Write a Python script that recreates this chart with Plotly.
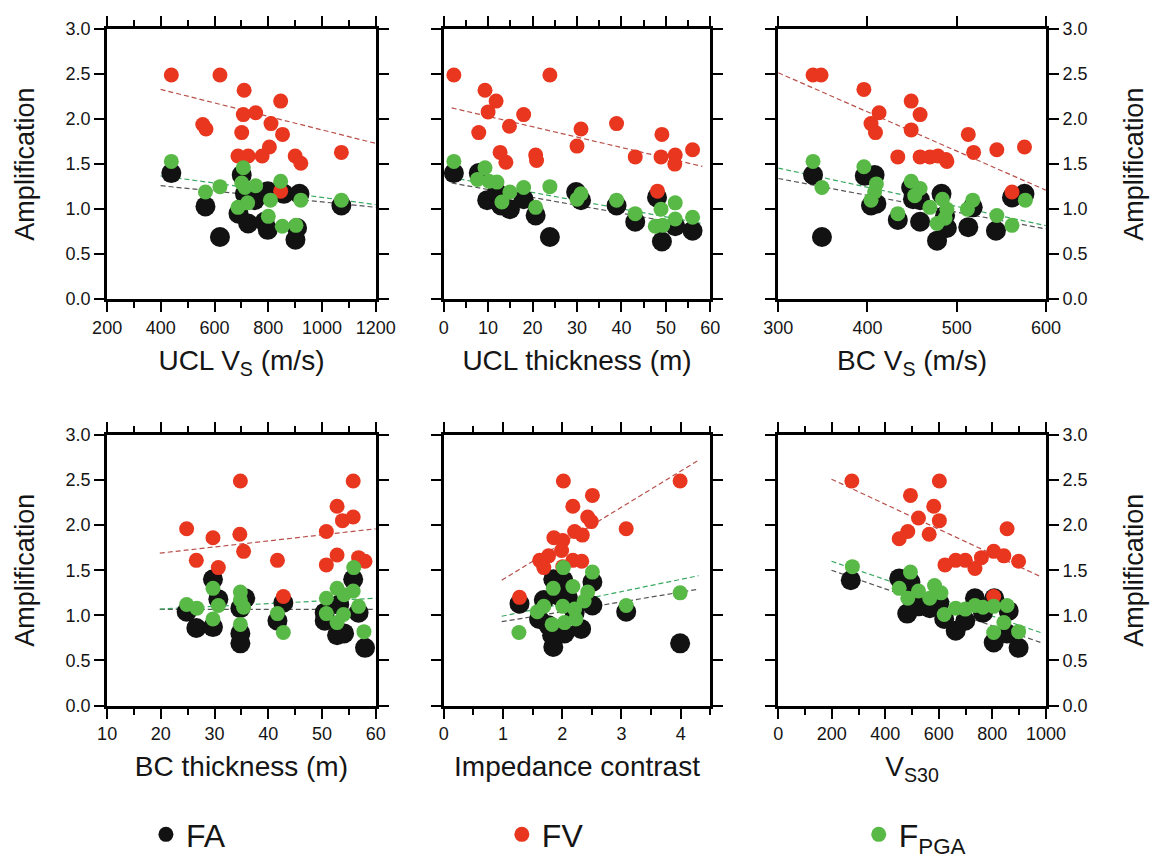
import plotly.graph_objects as go

# ---------------- data ----------------
# Panel 1: UCL Vs (m/s)
ucl_vs_fa_x = [439, 566, 620, 701, 689, 725, 713, 749, 798, 858, 786, 798, 907, 901, 916, 1072]
ucl_vs_fa_y = [1.40, 1.03, 0.69, 1.38, 0.95, 0.84, 1.17, 1.10, 1.20, 1.17, 0.86, 0.77, 0.79, 0.66, 1.17, 1.04]
ucl_vs_fv_x = [439, 620, 710, 846, 707, 753, 556, 568, 810, 701, 853, 804, 777, 687, 725, 900, 921, 1072, 846]
ucl_vs_fv_y = [2.49, 2.49, 2.32, 2.20, 2.05, 2.07, 1.94, 1.89, 1.95, 1.85, 1.83, 1.69, 1.59, 1.59, 1.59, 1.59, 1.51, 1.63, 1.20]
ucl_vs_fpga_x = [439, 707, 566, 620, 701, 713, 753, 846, 687, 723, 808, 800, 852, 903, 921, 1072]
ucl_vs_fpga_y = [1.53, 1.46, 1.19, 1.25, 1.29, 1.24, 1.26, 1.31, 1.02, 1.07, 1.10, 0.92, 0.81, 0.82, 1.10, 1.10]
ucl_vs_trend_x = [399, 1200]
ucl_vs_trend_fa = [1.26, 1.02]
ucl_vs_trend_fv = [2.33, 1.73]
ucl_vs_trend_fpga = [1.37, 1.05]

# Panel 2: UCL thickness (m)
ucl_th_fa_x = [2.3, 7.9, 9.8, 12.9, 14.9, 12.0, 18.0, 20.7, 23.9, 29.8, 30.9, 38.9, 43.1, 48.0, 49.1, 52.1, 56.0]
ucl_th_fa_y = [1.40, 1.40, 1.10, 1.04, 1.00, 1.18, 1.11, 0.93, 0.69, 1.19, 1.10, 1.04, 0.86, 1.13, 0.64, 0.81, 0.76]
ucl_th_fv_x = [2.3, 23.9, 9.3, 11.8, 10.0, 18.0, 7.9, 14.8, 30.9, 38.9, 49.1, 30.0, 12.7, 14.0, 20.7, 20.9, 43.1, 48.9, 52.1, 52.0, 56.0, 48.1]
ucl_th_fv_y = [2.49, 2.49, 2.32, 2.20, 2.08, 2.05, 1.85, 1.92, 1.89, 1.95, 1.83, 1.70, 1.63, 1.52, 1.60, 1.54, 1.58, 1.58, 1.60, 1.50, 1.66, 1.20]
ucl_th_fpga_x = [2.3, 9.3, 7.6, 10.2, 12.0, 14.9, 13.1, 18.0, 20.7, 23.9, 30.0, 30.9, 38.9, 43.1, 48.9, 52.1, 47.6, 49.3, 52.1, 56.0]
ucl_th_fpga_y = [1.53, 1.46, 1.33, 1.31, 1.30, 1.19, 1.08, 1.24, 1.02, 1.25, 1.11, 1.17, 1.10, 0.95, 1.00, 1.07, 0.81, 0.82, 0.89, 0.91]
ucl_th_trend_x = [1.8, 58.2]
ucl_th_trend_fa = [1.29, 0.795]
ucl_th_trend_fv = [2.125, 1.475]
ucl_th_trend_fpga = [1.35, 0.84]

# Panel 3: BC Vs (m/s)
bc_vs_fa_x = [339, 349, 397, 408, 404, 410, 449, 451, 459, 434, 459, 483, 487, 489, 478, 518, 513, 544, 562, 576]
bc_vs_fa_y = [1.38, 0.69, 1.37, 1.38, 1.04, 1.06, 1.24, 1.11, 1.10, 0.88, 0.86, 1.17, 0.93, 0.79, 0.65, 1.02, 0.80, 0.76, 1.13, 1.17]
bc_vs_fv_x = [339, 348, 396, 413, 404, 409, 449, 459, 449, 434, 459, 470, 479, 488, 489, 513, 519, 545, 576, 562]
bc_vs_fv_y = [2.49, 2.49, 2.33, 2.07, 1.95, 1.85, 2.20, 2.05, 1.88, 1.58, 1.58, 1.58, 1.59, 1.55, 1.53, 1.83, 1.63, 1.66, 1.69, 1.19]
bc_vs_fpga_x = [339, 349, 396, 410, 408, 404, 449, 459, 453, 470, 484, 489, 487, 478, 512, 518, 434, 545, 562, 577]
bc_vs_fpga_y = [1.53, 1.24, 1.47, 1.28, 1.19, 1.10, 1.31, 1.23, 1.15, 1.02, 1.11, 1.00, 0.90, 0.84, 1.00, 1.10, 0.95, 0.93, 0.82, 1.10]
bc_vs_trend_x = [300, 600]
bc_vs_trend_fa = [1.34, 0.78]
bc_vs_trend_fv = [2.515, 1.21]
bc_vs_trend_fpga = [1.456, 0.817]

# Panel 4: BC thickness (m)
bc_th_fa_x = [24.8, 26.6, 29.7, 30.7, 29.7, 34.8, 35.7, 34.8, 34.8, 41.7, 42.8, 50.5, 50.5, 52.8, 54.1, 55.8, 53.2, 56.8, 58.0]
bc_th_fa_y = [1.04, 0.86, 1.40, 1.18, 0.87, 1.08, 1.19, 0.80, 0.69, 0.94, 1.14, 0.94, 1.03, 0.78, 0.80, 1.40, 1.12, 1.03, 0.64]
bc_th_fv_x = [34.8, 55.8, 52.8, 53.8, 55.8, 24.8, 29.7, 34.7, 50.8, 35.4, 26.6, 30.7, 41.7, 52.8, 50.8, 56.8, 58.0, 42.8]
bc_th_fv_y = [2.49, 2.49, 2.21, 2.05, 2.09, 1.96, 1.86, 1.90, 1.93, 1.71, 1.61, 1.53, 1.61, 1.67, 1.56, 1.64, 1.60, 1.21]
bc_th_fpga_x = [24.8, 26.7, 29.7, 30.7, 29.7, 34.8, 34.8, 35.4, 34.8, 41.7, 42.8, 50.8, 50.8, 52.8, 54.1, 55.8, 55.9, 52.8, 54.0, 56.8, 57.8]
bc_th_fpga_y = [1.12, 1.08, 1.30, 1.11, 0.96, 1.26, 1.17, 1.09, 0.90, 1.02, 0.81, 1.19, 1.02, 1.30, 1.23, 1.27, 1.53, 0.92, 1.01, 1.10, 0.82]
bc_th_trend_x = [19.8, 60]
bc_th_trend_fa = [1.066, 1.066]
bc_th_trend_fv = [1.69, 1.96]
bc_th_trend_fpga = [1.07, 1.19]

# Panel 5: Impedance contrast
imp_fa_x = [1.28, 1.85, 2.02, 2.51, 1.69, 1.96, 2.10, 1.61, 1.77, 1.83, 1.85, 2.04, 2.32, 2.51, 3.08, 3.99, 2.21]
imp_fa_y = [1.13, 1.40, 1.39, 1.37, 1.17, 1.21, 1.19, 0.96, 0.89, 0.78, 0.65, 0.80, 0.85, 1.11, 1.04, 0.69, 1.03]
imp_fv_x = [2.02, 3.99, 2.51, 2.18, 2.43, 2.49, 3.08, 1.86, 2.01, 2.21, 2.34, 1.99, 1.77, 1.62, 1.69, 2.18, 2.33, 2.01, 1.28]
imp_fv_y = [2.49, 2.49, 2.33, 2.21, 2.09, 2.04, 1.96, 1.86, 1.83, 1.93, 1.89, 1.72, 1.66, 1.61, 1.53, 1.61, 1.60, 1.54, 1.20]
imp_fpga_x = [2.02, 2.51, 1.85, 2.18, 2.43, 2.37, 1.69, 2.01, 1.58, 1.83, 2.04, 2.21, 2.23, 1.27, 3.08, 3.99]
imp_fpga_y = [1.53, 1.48, 1.30, 1.32, 1.26, 1.16, 1.10, 1.10, 1.04, 0.90, 0.92, 1.07, 0.96, 0.81, 1.11, 1.25]
imp_trend_x = [0.98, 4.3]
imp_trend_fa = [0.93, 1.29]
imp_trend_fv = [1.39, 2.72]
imp_trend_fpga = [0.99, 1.44]

# Panel 6: VS30
vs30_fa_x = [271, 452, 494, 482, 524, 566, 602, 620, 663, 699, 735, 765, 805, 807, 861, 855, 898]
vs30_fa_y = [1.39, 1.41, 1.37, 1.02, 1.10, 1.08, 1.14, 0.96, 0.83, 0.94, 1.19, 1.03, 0.70, 1.19, 1.05, 0.80, 0.64]
vs30_fv_x = [275, 602, 494, 581, 524, 602, 484, 452, 564, 855, 623, 663, 699, 735, 759, 805, 843, 898, 805]
vs30_fv_y = [2.49, 2.49, 2.33, 2.21, 2.08, 2.05, 1.93, 1.85, 1.90, 1.96, 1.56, 1.61, 1.61, 1.52, 1.64, 1.71, 1.66, 1.60, 1.21]
vs30_fpga_x = [277, 494, 452, 484, 524, 584, 608, 566, 620, 663, 699, 735, 765, 805, 855, 843, 805, 898]
vs30_fpga_y = [1.54, 1.48, 1.30, 1.19, 1.27, 1.33, 1.25, 1.19, 1.01, 1.08, 1.07, 1.11, 1.09, 1.10, 1.11, 0.92, 0.81, 0.82]
vs30_trend_x = [199, 980]
vs30_trend_fa = [1.50, 0.70]
vs30_trend_fv = [2.51, 1.43]
vs30_trend_fpga = [1.60, 0.81]

x_titles = ["UCL V<sub>S</sub> (m/s)", "UCL thickness (m)", "BC V<sub>S</sub> (m/s)",
            "BC thickness (m)", "Impedance contrast", "V<sub>S30</sub>"]
x_ranges = [[200, 1200], [0, 60], [300, 600], [10, 60], [0, 4.5], [0, 1000]]
x_dticks = [200, 10, 100, 10, 1, 200]
x_minor = [100, 5, None, 5, 0.5, 100]
series_names = ["FA", "FV", "F<sub>PGA</sub>"]

# ---------------- styling ----------------
FONT = "Liberation Sans, Arial, Helvetica, sans-serif"
TXT = "#151515"
C_FA, C_FV, C_PGA = "#121212", "#e8361f", "#58b947"
L_FA, L_FV, L_PGA = "#555555", "#b8504a", "#3aa860"
SZ_FA, SZ_FV, SZ_PGA = 20, 15, 15

panels = [
    (ucl_vs_fa_x, ucl_vs_fa_y, ucl_vs_fv_x, ucl_vs_fv_y, ucl_vs_fpga_x, ucl_vs_fpga_y,
     ucl_vs_trend_x, ucl_vs_trend_fa, ucl_vs_trend_fv, ucl_vs_trend_fpga),
    (ucl_th_fa_x, ucl_th_fa_y, ucl_th_fv_x, ucl_th_fv_y, ucl_th_fpga_x, ucl_th_fpga_y,
     ucl_th_trend_x, ucl_th_trend_fa, ucl_th_trend_fv, ucl_th_trend_fpga),
    (bc_vs_fa_x, bc_vs_fa_y, bc_vs_fv_x, bc_vs_fv_y, bc_vs_fpga_x, bc_vs_fpga_y,
     bc_vs_trend_x, bc_vs_trend_fa, bc_vs_trend_fv, bc_vs_trend_fpga),
    (bc_th_fa_x, bc_th_fa_y, bc_th_fv_x, bc_th_fv_y, bc_th_fpga_x, bc_th_fpga_y,
     bc_th_trend_x, bc_th_trend_fa, bc_th_trend_fv, bc_th_trend_fpga),
    (imp_fa_x, imp_fa_y, imp_fv_x, imp_fv_y, imp_fpga_x, imp_fpga_y,
     imp_trend_x, imp_trend_fa, imp_trend_fv, imp_trend_fpga),
    (vs30_fa_x, vs30_fa_y, vs30_fv_x, vs30_fv_y, vs30_fpga_x, vs30_fpga_y,
     vs30_trend_x, vs30_trend_fa, vs30_trend_fv, vs30_trend_fpga),
]

W, H = 1159, 868
col_px = [(95, 372), (442, 717), (787, 1063)]
row_px = [(19.5, 296), (435, 712)]

fig = go.Figure()
layout = dict(
    width=W, height=H, margin=dict(l=0, r=0, t=0, b=0),
    paper_bgcolor="white", plot_bgcolor="white",
    font=dict(family=FONT, color=TXT),
    showlegend=True,
)

for i, p in enumerate(panels):
    fax, fay, fvx, fvy, fpx, fpy, tx, tfa, tfv, tfp = p
    n = i + 1
    xa = "x" if n == 1 else f"x{n}"
    ya = "y" if n == 1 else f"y{n}"
    for ty, col in ((tfa, L_FA), (tfv, L_FV), (tfp, L_PGA)):
        fig.add_trace(go.Scatter(x=tx, y=ty, mode="lines", xaxis=xa, yaxis=ya,
                                 line=dict(color=col, width=1.2, dash="5px,3px"),
                                 showlegend=False, hoverinfo="skip"))
    fig.add_trace(go.Scatter(x=fax, y=fay, mode="markers", xaxis=xa, yaxis=ya,
                             marker=dict(color=C_FA, size=SZ_FA, line=dict(width=0)),
                             showlegend=False, name="FA"))
    fig.add_trace(go.Scatter(x=fvx, y=fvy, mode="markers", xaxis=xa, yaxis=ya,
                             marker=dict(color=C_FV, size=SZ_FV, line=dict(width=0)),
                             showlegend=False, name="FV"))
    fig.add_trace(go.Scatter(x=fpx, y=fpy, mode="markers", xaxis=xa, yaxis=ya,
                             marker=dict(color=C_PGA, size=SZ_PGA, line=dict(width=0)),
                             showlegend=False, name="FPGA"))

    r, c = divmod(i, 3)
    x0, x1 = col_px[c]
    yt, yb = row_px[r]
    minor = dict(ticks="outside", ticklen=6, tickwidth=1.5, tickcolor="black", showgrid=False)
    if x_minor[i] is not None:
        minor["dtick"] = x_minor[i]
    else:
        minor["ticks"] = ""
    xaxis = dict(
        domain=[x0 / W, x1 / W], anchor=ya, range=x_ranges[i], dtick=x_dticks[i],
        tick0=x_ranges[i][0] if i != 4 else 0,
        showline=True, linewidth=3, linecolor="black", mirror="allticks",
        ticks="outside", ticklen=10, tickwidth=1.5, tickcolor="black",
        showgrid=False, zeroline=False, minor=minor,
        tickfont=dict(size=18, family=FONT, color=TXT),
        title=dict(text=x_titles[i], font=dict(size=28, family=FONT, color=TXT), standoff=14),
        fixedrange=True,
    )
    yaxis = dict(
        domain=[1 - yb / H, 1 - yt / H], anchor=xa, range=[0, 3], dtick=0.5, tickformat=".1f",
        showline=True, linewidth=3, linecolor="black", mirror="allticks",
        ticks="outside", ticklen=10, tickwidth=1.5, tickcolor="black",
        showgrid=False, zeroline=False,
        tickfont=dict(size=18, family=FONT, color=TXT),
        fixedrange=True,
    )
    if c == 0:
        yaxis["title"] = dict(text="Amplification", font=dict(size=27, family=FONT, color=TXT), standoff=24)
    elif c == 2:
        yaxis["side"] = "right"
        yaxis["title"] = dict(text="Amplification", font=dict(size=27, family=FONT, color=TXT), standoff=38)
    else:
        yaxis["showticklabels"] = False
    layout["xaxis" if n == 1 else f"xaxis{n}"] = xaxis
    layout["yaxis" if n == 1 else f"yaxis{n}"] = yaxis

# legend-only entries, one legend per entry so they can sit apart
legend_ids = ["legend", "legend2", "legend3"]
legend_dot_px = [165, 532, 900]
for nm, col, lid in zip(series_names, (C_FA, C_FV, C_PGA), legend_ids):
    fig.add_trace(go.Scatter(x=[None], y=[None], mode="markers", name=nm, legend=lid,
                             marker=dict(color=col, size=15), showlegend=True))
for lid, px in zip(legend_ids, legend_dot_px):
    layout[lid] = dict(
        orientation="h", x=(px - 30) / W, xanchor="left", y=1 - 844 / H, yanchor="middle",
        font=dict(size=32, family=FONT, color=TXT),
        itemsizing="trace", bgcolor="rgba(0,0,0,0)",
    )

fig.update_layout(**layout)
fig.write_html("out.html")
